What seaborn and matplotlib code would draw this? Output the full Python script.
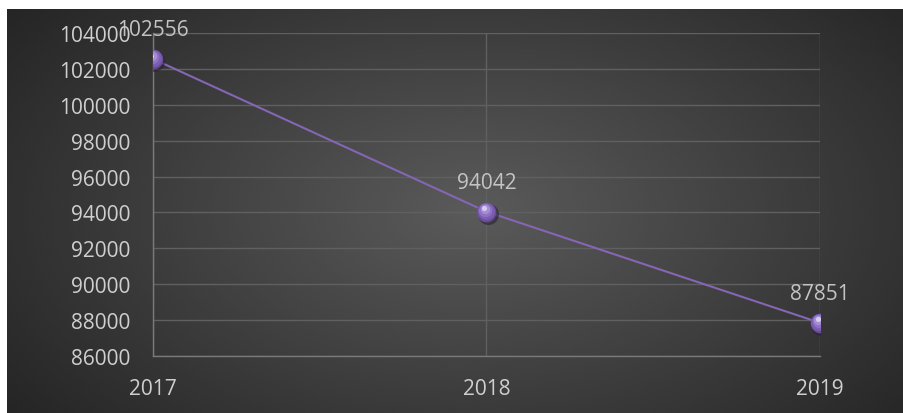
import numpy as np
import pandas as pd
import matplotlib
matplotlib.use("Agg")
import matplotlib.pyplot as plt
import matplotlib.transforms as mtransforms
import seaborn as sns

# data
years = ["2017", "2018", "2019"]
values = [102556, 94042, 87851]
y_ticks = list(range(86000, 104001, 2000))

df = pd.DataFrame({"year": years, "value": values})
df["pos"] = range(len(years))

sns.set_style("dark")
plt.rcParams["font.family"] = ["Open Sans", "DejaVu Sans"]

fig = plt.figure(figsize=(9.04, 4.14), dpi=100)
fig.patch.set_facecolor("white")

# dark radial gradient background (starts a few px in from top/left)
bg = fig.add_axes([7 / 904, 0, 1 - 7 / 904, 1 - 10 / 414])
bg.set_axis_off()
yy, xx = np.mgrid[0:1:300j, 0:1:600j]
r = np.sqrt(((xx - 0.52) / 0.75) ** 2 + ((yy - 0.5) / 0.95) ** 2)
shade = np.clip(0.355 - 0.24 * r, 0.13, 0.36)
bg.imshow(shade, cmap="gray", vmin=0, vmax=1, aspect="auto",
          extent=[0, 1, 0, 1], interpolation="bicubic")

ax = fig.add_axes([153 / 904, 1 - 357 / 414, (820 - 153) / 904, (357 - 34) / 414])
ax.patch.set_alpha(0)

sns.lineplot(data=df, x="pos", y="value", ax=ax, color="#8466b4",
             linewidth=1.5, zorder=3)

# spherical markers: shadow, body, then highlights shifted up-left
shadow = mtransforms.offset_copy(ax.transData, fig=fig, x=1, y=-1.5, units="points")
ax.scatter(df["pos"], df["value"], s=230, color="#2a2136", alpha=0.6,
           zorder=4, linewidths=0, transform=shadow)
ax.scatter(df["pos"], df["value"], s=200, color="#6a4c9c", zorder=5,
           linewidths=0)
layers = [(150, "#7b5db0", 0.6), (95, "#8f72c4", 1.2), (45, "#a68dd6", 1.8),
          (14, "#d8cbf0", 2.4)]
for size, col, shift in layers:
    tr = mtransforms.offset_copy(ax.transData, fig=fig, x=-shift * 0.6,
                                 y=shift, units="points")
    ax.scatter(df["pos"], df["value"], s=size, color=col, zorder=6,
               linewidths=0, transform=tr)

for p, v in zip(df["pos"], df["value"]):
    ax.annotate(str(v), (p, v), xytext=(0, 21), textcoords="offset points",
                ha="center", va="center", fontsize=15, color="#c4c4c4",
                zorder=7)

ax.set_xlim(0, len(years) - 1)
ax.set_ylim(y_ticks[0], y_ticks[-1])
ax.set_xticks(df["pos"])
ax.set_xticklabels(years)
ax.set_yticks(y_ticks)
ax.set_xlabel("")
ax.set_ylabel("")
ax.grid(True, color="#606060", linewidth=1)
ax.tick_params(axis="both", length=0, labelsize=15, colors="#cfcfcf")
ax.tick_params(axis="y", pad=16)
ax.tick_params(axis="x", pad=16)
for side in ["top", "right"]:
    ax.spines[side].set_visible(False)
for side in ["left", "bottom"]:
    ax.spines[side].set_visible(True)
    ax.spines[side].set_color("#7a7a7a")
    ax.spines[side].set_linewidth(1)

fig.savefig("out.png", dpi=100, facecolor=fig.get_facecolor())
